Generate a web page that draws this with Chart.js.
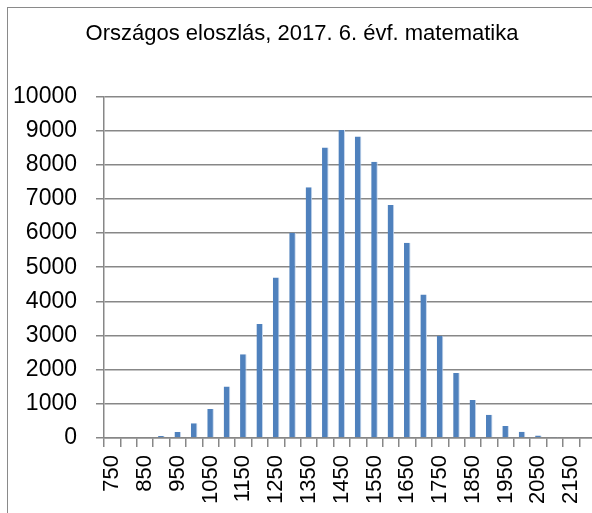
<!DOCTYPE html>
<html>
<head>
<meta charset="utf-8">
<script src="https://cdn.jsdelivr.net/npm/chart.js@4/dist/chart.umd.min.js"></script>
<style>
  html, body { margin: 0; padding: 0; background: #fff; overflow: hidden; }
  #wrap { position: relative; width: 592px; height: 513px; overflow: hidden; }
  #frame { position: absolute; left: 7px; top: 7px; width: 700px; height: 600px;
           border-left: 1px solid #8a8a8a; border-top: 1px solid #8a8a8a; }
  #bar-chart { position: absolute; left: -18px; top: 0; }
</style>
</head>
<body>
<div id="wrap">
  <div id="frame"></div>
  <canvas id="bar-chart" width="640" height="513"></canvas>
</div>
<script>
// score bands (every 50 points) and number of students in each
var scores = [750, 800, 850, 900, 950, 1000, 1050, 1100, 1150, 1200, 1250, 1300, 1350, 1400, 1450,
              1500, 1550, 1600, 1650, 1700, 1750, 1800, 1850, 1900, 1950, 2000, 2050, 2100, 2150, 2200];
var students = [0, 0, 0, 60, 175, 435, 850, 1510, 2455, 3335, 4695, 6005, 7340, 8505, 9020,
                8825, 8090, 6820, 5715, 4200, 2995, 1900, 1115, 680, 350, 185, 70, 30, 0, 0];
var yTicks = [0, 1000, 2000, 3000, 4000, 5000, 6000, 7000, 8000, 9000, 10000];

var gridColor = '#878787';
var fontFamily = "'Liberation Sans', Arial, sans-serif";

new Chart(document.getElementById('bar-chart'), {
  type: 'bar',
  data: {
    labels: scores,
    datasets: [{
      data: students,
      backgroundColor: '#4f81bd',
      borderColor: '#c5d6ec',
      borderWidth: { left: 0, top: 0, right: 1, bottom: 0 },
      barPercentage: 0.4,
      categoryPercentage: 1
    }]
  },
  options: {
    responsive: false,
    animation: false,
    devicePixelRatio: 1,
    layout: { padding: { left: 0, right: 0, top: 0, bottom: 0 } },
    plugins: {
      legend: { display: false },
      tooltip: { enabled: false },
      title: {
        display: true,
        text: 'Országos eloszlás, 2017. 6. évf. matematika',
        color: '#000',
        font: { family: fontFamily, size: 22, weight: 'normal' },
        padding: { top: 21, bottom: 49 },
        align: 'center'
      }
    },
    scales: {
      x: {
        grid: { display: true, drawOnChartArea: false, drawTicks: true, tickLength: 9,
                color: gridColor, lineWidth: 1.5, offset: true },
        border: { display: true, color: gridColor, width: 1.5 },
        ticks: {
          autoSkip: false, maxRotation: 90, minRotation: 90, padding: 8,
          color: '#000', font: { family: fontFamily, size: 22 },
          callback: function (val, idx) {
            return (idx % 2 === 0 && idx < scores.length - 1) ? String(scores[idx]) : '';
          }
        },
        afterFit: function (scale) { scale.height = 75; }
      },
      y: {
        min: 0, max: 10000,
        afterBuildTicks: function (scale) {
          scale.ticks = yTicks.map(function (v) { return { value: v }; });
        },
        grid: { color: gridColor, lineWidth: 1.5, tickLength: 8, drawTicks: true },
        border: { display: true, color: gridColor, width: 1.5 },
        ticks: {
          color: '#000', padding: 19, font: { family: fontFamily, size: 23 },
          callback: function (v) { return String(v); }
        },
        afterFit: function (scale) { scale.width = 122; }
      }
    }
  }
});
</script>
</body>
</html>
